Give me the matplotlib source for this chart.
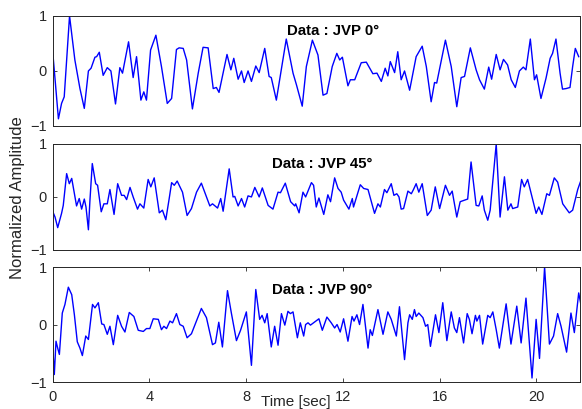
import numpy as np
import matplotlib.pyplot as plt

plt.rcParams['font.family'] = ['Liberation Sans', 'DejaVu Sans']

# JVP 0 deg (time in sec, normalized amplitude)
t0 = [0.00, 0.24, 0.37, 0.48, 0.70, 0.92, 1.13, 1.31, 1.48, 1.59, 1.75, 1.82, 1.93, 2.09, 2.26, 2.41,
      2.60, 2.78, 2.89, 3.14, 3.33, 3.47, 3.65, 3.77, 3.88, 4.05, 4.27, 4.50, 4.74, 4.92, 5.12, 5.23,
      5.40, 5.54, 5.78, 6.02, 6.22, 6.43, 6.64, 6.77, 6.88, 7.21, 7.37, 7.49, 7.67, 7.81, 7.92, 8.08,
      8.22, 8.40, 8.54, 8.77, 8.95, 9.04, 9.25, 9.66, 9.94, 10.08, 10.32, 10.49, 10.74, 10.97, 11.18,
      11.34, 11.56, 11.75, 11.87, 11.98, 12.21, 12.31, 12.49, 12.76, 12.97, 13.24, 13.41, 13.59, 13.75,
      13.86, 13.96, 14.14, 14.27, 14.41, 14.55, 14.76, 15.03, 15.28, 15.45, 15.65, 15.79, 15.88, 16.24,
      16.48, 16.71, 16.89, 17.03, 17.27, 17.51, 17.65, 17.85, 18.03, 18.15, 18.34, 18.50, 18.64, 18.81,
      18.96, 19.13, 19.30, 19.46, 19.57, 19.75, 19.92, 20.01, 20.19, 20.40, 20.57, 20.67, 20.81, 20.98,
      21.08, 21.23, 21.39, 21.50, 21.61, 21.75]
y0 = [0.37, -0.87, -0.59, -0.47, 1.00, 0.20, -0.32, -0.68, 0.00, 0.05, 0.25, 0.26, 0.34, -0.08, 0.06, 0.00,
      -0.60, 0.06, -0.04, 0.53, -0.12, 0.26, -0.53, -0.38, -0.53, 0.38, 0.65, 0.08, -0.59, -0.50, 0.39, 0.42,
      0.41, 0.20, -0.69, -0.04, 0.43, 0.42, -0.32, -0.30, -0.39, 0.30, 0.02, 0.23, -0.15, 0.00, -0.21, 0.00,
      -0.19, 0.09, -0.03, 0.41, -0.10, -0.12, -0.53, 0.58, -0.04, -0.25, -0.64, 0.08, 0.56, 0.29, -0.44,
      -0.41, 0.08, 0.32, 0.20, 0.25, -0.27, -0.16, -0.16, 0.15, 0.16, -0.05, -0.04, -0.19, 0.05,
      -0.09, 0.17, -0.03, 0.35, -0.16, 0.00, -0.35, 0.26, 0.45, 0.08, -0.56, -0.21, -0.22, 0.56,
      0.08, -0.65, -0.12, -0.10, 0.42, 0.02, -0.16, -0.33, 0.07, -0.15, 0.30, 0.02, 0.21, 0.11,
      -0.16, -0.30, 0.00, 0.07, 0.02, 0.58, -0.16, -0.07, -0.50, -0.13, 0.23, 0.32, 0.58, -0.04,
      -0.33, -0.32, -0.30, 0.08, 0.41, 0.26]

# JVP 45 deg
t1 = [0.00, 0.10, 0.21, 0.37, 0.44, 0.58, 0.69, 0.79, 0.99, 1.10, 1.20, 1.31, 1.38, 1.48, 1.54, 1.64,
      1.78, 1.86, 2.01, 2.12, 2.26, 2.37, 2.54, 2.69, 2.85, 2.96, 3.06, 3.20, 3.33, 3.51, 3.61, 3.77,
      3.95, 4.06, 4.20, 4.41, 4.54, 4.68, 4.82, 4.92, 5.03, 5.15, 5.37, 5.56, 5.74, 5.95, 6.15, 6.36,
      6.50, 6.61, 6.82, 6.95, 7.05, 7.30, 7.46, 7.53, 7.67, 7.81, 7.94, 8.08, 8.22, 8.36, 8.54, 8.67,
      8.91, 9.11, 9.32, 9.42, 9.62, 9.84, 10.01, 10.05, 10.19, 10.35, 10.46, 10.70, 10.79, 10.90, 11.01,
      11.21, 11.38, 11.49, 11.66, 11.80, 11.93, 12.03, 12.25, 12.39, 12.44, 12.72, 12.86, 13.04, 13.31,
      13.45, 13.55, 13.72, 13.82, 14.00, 14.11, 14.23, 14.32, 14.41, 14.51, 14.69, 14.83, 14.92, 15.03,
      15.14, 15.28, 15.49, 15.65, 15.82, 16.00, 16.24, 16.41, 16.52, 16.71, 16.85, 17.03, 17.16, 17.30,
      17.51, 17.62, 17.76, 17.85, 17.99, 18.09, 18.34, 18.50, 18.68, 18.82, 18.95, 19.02, 19.23, 19.39,
      19.50, 19.64, 19.99, 20.10, 20.23, 20.43, 20.54, 20.74, 20.88, 21.09, 21.36, 21.50, 21.71, 21.84]
y1 = [-0.27, -0.38, -0.58, -0.31, -0.16, 0.44, 0.25, 0.35, -0.17, -0.03, -0.23, -0.04, -0.19, -0.62, -0.09, 0.63,
      0.25, 0.22, -0.28, -0.13, -0.13, 0.14, -0.33, 0.25, 0.03, 0.03, -0.05, 0.18, 0.00, -0.23, -0.13, -0.21,
      0.33, 0.19, 0.36, -0.30, -0.25, -0.43, -0.03, 0.27, 0.22, 0.30, 0.09, -0.35, -0.22, 0.09, 0.26, 0.00,
      -0.17, -0.13, -0.21, -0.03, -0.27, 0.53, 0.00, 0.01, -0.17, -0.03, -0.19, 0.02, 0.00, 0.18, 0.00, 0.17,
      -0.16, -0.23, 0.09, 0.08, 0.26, -0.09, -0.17, -0.13, -0.30, 0.09, 0.00, 0.27, 0.22, -0.19, -0.02,
      -0.33, 0.04, -0.09, 0.36, 0.16, 0.09, -0.06, -0.23, -0.03, -0.19, 0.23, 0.16, 0.14, -0.31,
      -0.13, -0.19, 0.14, 0.08, 0.25, 0.03, 0.06, 0.00, -0.23, -0.22, 0.11, 0.06, 0.14, 0.25,
      0.09, 0.25, -0.35, -0.25, 0.19, -0.22, 0.22, 0.03, 0.11, -0.38, -0.09, -0.06, -0.04, 0.66,
      -0.16, -0.17, 0.02, -0.25, -0.44, -0.25, 1.00, -0.38, 0.38, -0.25, -0.13, -0.22, -0.19, 0.33,
      0.19, 0.33, -0.31, -0.19, -0.33, 0.06, 0.03, 0.36, 0.28, -0.13, -0.30, -0.25, 0.14, 0.31]

# JVP 90 deg
t2 = [0.00, 0.07, 0.14, 0.21, 0.28, 0.40, 0.51, 0.65, 0.79, 0.90, 1.02, 1.13, 1.23, 1.37, 1.48, 1.65,
      1.75, 1.89, 2.03, 2.12, 2.26, 2.37, 2.51, 2.69, 2.85, 2.99, 3.17, 3.36, 3.54, 3.75, 3.88, 4.02,
      4.16, 4.37, 4.50, 4.60, 4.71, 4.85, 4.96, 5.12, 5.26, 5.40, 5.56, 5.74, 6.15, 6.36, 6.61, 6.73,
      6.87, 7.02, 7.23, 7.39, 7.60, 7.77, 8.01, 8.22, 8.40, 8.56, 8.66, 8.77, 8.87, 9.04, 9.18, 9.32,
      9.46, 9.60, 9.73, 9.83, 9.94, 10.12, 10.24, 10.38, 10.46, 10.56, 10.66, 10.88, 11.01, 11.15, 11.34,
      11.52, 11.66, 11.76, 11.89, 12.03, 12.21, 12.38, 12.46, 12.58, 12.69, 12.83, 13.04, 13.13, 13.22,
      13.45, 13.66, 13.86, 14.00, 14.21, 14.34, 14.55, 14.69, 14.76, 14.87, 14.96, 15.03, 15.14, 15.31,
      15.42, 15.51, 15.62, 15.83, 15.97, 16.13, 16.30, 16.48, 16.61, 16.71, 16.82, 16.99, 17.14, 17.23,
      17.34, 17.48, 17.54, 17.65, 17.78, 17.99, 18.09, 18.20, 18.34, 18.47, 18.75, 18.95, 19.19, 19.37,
      19.57, 19.82, 19.99, 20.13, 20.34, 20.54, 20.71, 20.88, 21.02, 21.25, 21.43, 21.57, 21.75, 21.84]
y2 = [-0.35, -0.87, -0.29, -0.41, -0.52, 0.20, 0.35, 0.65, 0.52, 0.17, -0.30, -0.41, -0.54, -0.20, -0.26, 0.35,
      0.29, 0.38, 0.01, 0.00, -0.17, -0.03, -0.35, 0.16, -0.03, -0.13, 0.21, 0.14, -0.10, -0.12, -0.07, -0.07,
      0.10, 0.09, -0.09, -0.03, -0.07, 0.06, 0.03, 0.19, 0.00, -0.03, -0.23, -0.16, 0.28, 0.12, -0.35, -0.32,
      0.04, -0.39, 0.59, 0.20, -0.28, -0.10, 0.22, -0.71, 0.61, 0.09, 0.16, 0.03, 0.19, -0.39, -0.03, -0.36,
      0.19, -0.01, 0.23, 0.19, 0.22, -0.23, 0.03, -0.20, 0.00, 0.03, -0.01, 0.06, 0.10, -0.10, 0.13,
      0.03, -0.06, 0.00, -0.13, 0.10, -0.29, 0.14, 0.06, 0.17, 0.00, 0.35, -0.41, -0.09, -0.19,
      0.26, -0.17, 0.22, 0.09, -0.20, 0.31, -0.61, 0.03, 0.17, 0.09, 0.26, 0.14, 0.20, 0.12,
      -0.03, 0.00, -0.38, 0.17, -0.14, 0.38, -0.28, 0.22, -0.06, -0.14, 0.12, -0.32, 0.19, 0.09,
      -0.16, 0.16, 0.06, 0.16, -0.34, 0.16, 0.12, 0.22, -0.09, -0.41, 0.36, -0.34, 0.32, -0.32,
      0.46, -0.93, 0.09, -0.59, 1.00, -0.34, -0.20, 0.19, -0.03, -0.48, 0.20, -0.14, 0.55, 0.35]

titles = ['Data : JVP 0\u00b0', 'Data : JVP 45\u00b0', 'Data : JVP 90\u00b0']
xticks = [0, 4, 8, 12, 16, 20]

fig = plt.figure(figsize=(5.82, 4.09), dpi=100)
# axes boxes in figure fractions (left, bottom, width, height)
boxes = [(0.0904, 0.692, 0.906, 0.269),
         (0.0904, 0.389, 0.906, 0.259),
         (0.0904, 0.066, 0.906, 0.281)]
title_pos = [(0.532, 0.865), (0.512, 0.81), (0.512, 0.80)]

for i, (t, y) in enumerate([(t0, y0), (t1, y1), (t2, y2)]):
    ax = fig.add_axes(boxes[i])
    ax.plot(t, y, color='#0000ff', lw=1.0, solid_joinstyle='round')
    ax.set_xlim(0, 21.8)
    ax.set_ylim(-1, 1)
    ax.set_yticks([-1, 0, 1])
    ax.tick_params(direction='in', length=3, width=0.6, labelsize=10.5, colors='#262626',
                   top=True, right=True, pad=4)
    if i < 2:
        ax.set_xticks([])
    else:
        ax.set_xticks(xticks)
        ax.tick_params(axis='x', pad=6)
    for s in ax.spines.values():
        s.set_linewidth(0.7)
        s.set_color('#262626')
    ax.text(title_pos[i][0], title_pos[i][1], titles[i], transform=ax.transAxes,
            ha='center', va='center', fontsize=10.8, fontweight='bold')

fig.text(18 / 582, 1 - 198 / 409, 'Normalized Amplitude', rotation=90, ha='center', va='center',
         fontsize=12, color='#262626')
fig.text(296 / 582, 1 - 402 / 409, 'Time [sec]', ha='center', va='center', fontsize=11, color='#262626')

fig.savefig('out.png', dpi=100)
